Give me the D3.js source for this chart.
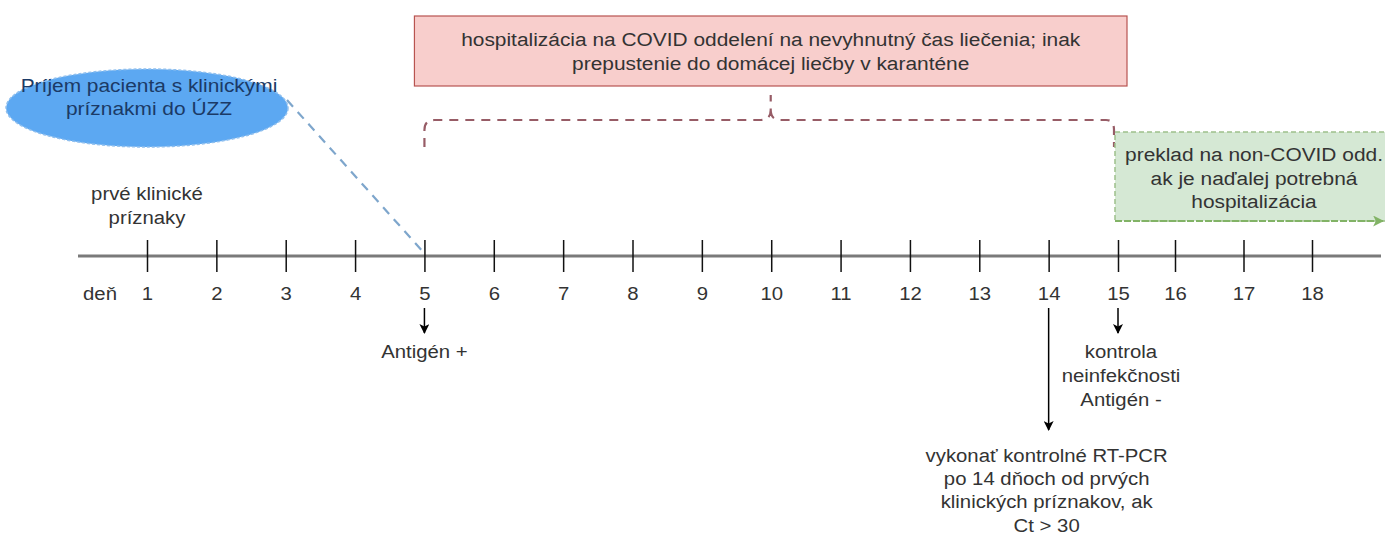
<!DOCTYPE html>
<html>
<head>
<meta charset="utf-8">
<script src="https://cdn.jsdelivr.net/npm/d3@7"></script>
<style>
body { margin: 0; background: #fff; }
text { font-family: "Liberation Sans", Arial, sans-serif; fill: #333; }
</style>
</head>
<body>
<svg id="chart" width="1385" height="536"></svg>
<script>
// timeline days
var days = [1, 2, 3, 4, 5, 6, 7, 8, 9, 10, 11, 12, 13, 14, 15, 16, 17, 18];
var dayLabel = "deň";

var firstSymptoms = ["prvé klinické", "príznaky"];
var firstSymptomsDay = 1;

var intakeText = ["Príjem pacienta s klinickými", "príznakmi do ÚZZ"];
var intakeDay = 5;

var hospitalText = ["hospitalizácia na COVID oddelení na nevyhnutný čas liečenia; inak",
                    "prepustenie do domácej liečby v karanténe"];
var hospitalDays = [5, 15];

var transferText = ["preklad na non-COVID odd.", "ak je naďalej potrebná", "hospitalizácia"];
var transferDay = 15;

var antigenPosDay = 5;
var antigenPosText = ["Antigén +"];
var antigenNegDay = 15;
var antigenNegText = ["kontrola", "neinfekčnosti", "Antigén -"];
var pcrDay = 14;
var pcrText = ["vykonať kontrolné RT-PCR", "po 14 dňoch od prvých", "klinických príznakov, ak", "Ct > 30"];

var svg = d3.select("#chart");
var W = 1385, H = 536;
var axisY = 256;
var fs = 18, bfs = 19, lh = 23.5;
var sx = 1.13, bsx = 1.1;   // the original text is a bit wider than Arial

// spacing of the last days is a bit tighter in the original
var x = d3.scaleLinear().domain([1, 15, 16, 18]).range([147, 1118, 1175, 1312]);

var defs = svg.append("defs");
defs.append("marker")
    .attr("id", "arr")
    .attr("viewBox", "0 0 10 10")
    .attr("refX", 9).attr("refY", 5)
    .attr("markerWidth", 10).attr("markerHeight", 10)
    .attr("markerUnits", "userSpaceOnUse")
    .attr("orient", "auto")
    .append("path").attr("d", "M0,0 L10,5 L0,10 L2.5,5 Z").attr("fill", "#000");
defs.append("marker")
    .attr("id", "garr")
    .attr("viewBox", "0 0 10 10")
    .attr("refX", 9).attr("refY", 5)
    .attr("markerWidth", 11).attr("markerHeight", 11)
    .attr("markerUnits", "userSpaceOnUse")
    .attr("orient", "auto")
    .append("path").attr("d", "M0,0 L10,5 L0,10 L2.5,5 Z").attr("fill", "#82b366");

function lines(arr, cx, y0, step, size, stretch, color) {
    var g = svg.append("g").attr("transform", "translate(" + cx + ",0) scale(" + stretch + ",1)");
    var t = g.append("text")
        .attr("text-anchor", "middle")
        .style("font-size", size + "px");
    if (color) t.style("fill", color);
    arr.forEach(function (s, i) {
        t.append("tspan").attr("x", 0).attr("y", y0 + i * step).text(s);
    });
    return t;
}

// top hospitalisation box
var bx0 = x(hospitalDays[0]) - 10, bx1 = x(hospitalDays[1]) + 9;
svg.append("rect")
    .attr("x", bx0).attr("y", 16)
    .attr("width", bx1 - bx0).attr("height", 70)
    .attr("fill", "#f8cecc").attr("stroke", "#b85450").attr("stroke-width", 1.2);
lines(hospitalText, (bx0 + bx1) / 2, 46.5, lh, bfs, bsx);

// curly brace under the box
var l = x(hospitalDays[0]), r = x(hospitalDays[1]) - 4, m = (bx0 + bx1) / 2, by = 120;
svg.append("path")
    .attr("d", "M" + l + ",147 L" + l + ",130 Q" + l + "," + by + " " + (l + 10) + "," + by +
        " L" + (m - 10) + "," + by + " Q" + m + "," + by + " " + m + "," + (by - 10) + " L" + m + ",95" +
        " M" + m + "," + (by - 10) + " Q" + m + "," + by + " " + (m + 10) + "," + by +
        " L" + (r - 8) + "," + by + " Q" + r + "," + by + " " + r + ",130 L" + r + ",147")
    .attr("fill", "none").attr("stroke", "#8c4a55").attr("stroke-width", 2.2)
    .attr("stroke-dasharray", "9,7").attr("opacity", 0.9);

// intake ellipse + dashed connector
svg.append("line")
    .attr("x1", 287).attr("y1", 100)
    .attr("x2", x(intakeDay) - 3).attr("y2", 250)
    .attr("stroke", "#7ea6cc").attr("stroke-width", 2.2).attr("stroke-dasharray", "9,7");
svg.append("ellipse")
    .attr("cx", 147).attr("cy", 108).attr("rx", 141).attr("ry", 39)
    .attr("fill", "#5ca8f2").attr("stroke", "#8fbfee").attr("stroke-width", 1.5)
    .attr("stroke-dasharray", "3,2");
lines(intakeText, 149, 92, lh, bfs, bsx, "#1b3a66");

// first symptoms
lines(firstSymptoms, x(firstSymptomsDay), 200.5, lh, fs, sx);

// transfer box (green), bottom edge runs into an arrow
var gx0 = x(transferDay) - 3;
svg.append("rect")
    .attr("x", gx0).attr("y", 132)
    .attr("width", W - gx0 + 5).attr("height", 89)
    .attr("fill", "#d5e8d4").attr("stroke", "#9dc08a").attr("stroke-width", 1.5)
    .attr("stroke-dasharray", "5,3");
svg.append("line")
    .attr("x1", gx0).attr("y1", 221).attr("x2", W - 2).attr("y2", 221)
    .attr("stroke", "#82b366").attr("stroke-width", 2)
    .attr("stroke-dasharray", "7,2")
    .attr("marker-end", "url(#garr)");
lines(transferText, 1254, 161.5, lh, bfs, bsx);

// axis
svg.append("line")
    .attr("x1", 78).attr("x2", 1381).attr("y1", axisY).attr("y2", axisY)
    .attr("stroke", "#7a7a7a").attr("stroke-width", 3);

var axis = d3.axisBottom(x).tickValues(days).tickSize(16).tickFormat(d3.format("d"));
var ag = svg.append("g").attr("transform", "translate(0," + axisY + ")").call(axis);
ag.select(".domain").remove();
ag.selectAll(".tick line").attr("y1", -16).attr("y2", 16).attr("stroke", "#111").attr("stroke-width", 1.5);
ag.selectAll(".tick text")
    .attr("y", 44).attr("dy", null)
    .attr("transform", "scale(" + sx + ",1)")
    .style("font-size", fs + "px")
    .style("font-family", "\"Liberation Sans\", Arial, sans-serif")
    .attr("fill", "#333");
lines([dayLabel], 100, axisY + 44, lh, fs, sx);

// event arrows below the axis
function eventArrow(day, y2) {
    svg.append("line")
        .attr("x1", x(day)).attr("x2", x(day))
        .attr("y1", 308).attr("y2", y2)
        .attr("stroke", "#000").attr("stroke-width", 1.5)
        .attr("marker-end", "url(#arr)");
}
eventArrow(antigenPosDay, 333);
lines(antigenPosText, x(antigenPosDay), 358, lh, fs, sx);

eventArrow(antigenNegDay, 333);
lines(antigenNegText, x(antigenNegDay) + 3, 358, 24, fs, sx);

eventArrow(pcrDay, 430);
lines(pcrText, x(pcrDay) - 2, 462, 23.2, fs, sx);
</script>
</body>
</html>
